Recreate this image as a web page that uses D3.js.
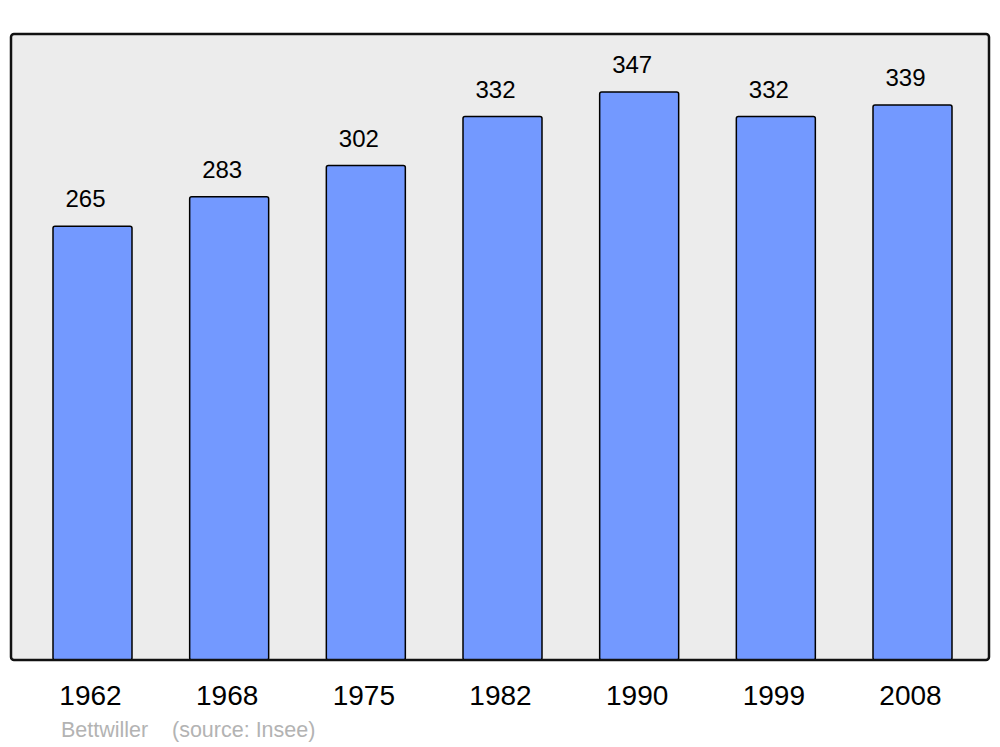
<!DOCTYPE html>
<html>
<head>
<meta charset="utf-8">
<script src="https://cdn.jsdelivr.net/npm/d3@7"></script>
<style>
  body { margin: 0; background: #fff; }
  text { font-family: "Liberation Sans", Arial, sans-serif; }
</style>
</head>
<body>
<svg></svg>
<script>
const years = ["1962", "1968", "1975", "1982", "1990", "1999", "2008"];
const population = [265, 283, 302, 332, 347, 332, 339];
const commune = "Bettwiller";
const source = "(source: Insee)";

const width = 1000;
const height = 747;

const svg = d3.select("svg").attr("width", width).attr("height", height);

// plot frame
const frame = { left: 11, right: 989, top: 34, bottom: 660 };

const x = d3
  .scaleBand()
  .domain(years)
  .range([12, 993])
  .paddingInner(0.422)
  .paddingOuter(0.3);

const y = d3
  .scaleLinear()
  .domain([0, 382.4])
  .range([frame.bottom, frame.top]);

svg
  .append("rect")
  .attr("x", frame.left)
  .attr("y", frame.top)
  .attr("width", frame.right - frame.left)
  .attr("height", frame.bottom - frame.top)
  .attr("rx", 3)
  .attr("fill", "#ececec")
  .attr("stroke", "none");

const data = years.map((yr, i) => ({ year: yr, value: population[i] }));

svg
  .selectAll("rect.bar")
  .data(data)
  .enter()
  .append("rect")
  .attr("class", "bar")
  .attr("x", (d) => x(d.year))
  .attr("y", (d) => y(d.value))
  .attr("width", x.bandwidth())
  .attr("height", (d) => y(0) - y(d.value))
  .attr("rx", 2)
  .attr("fill", "#7399ff")
  .attr("stroke", "#000")
  .attr("stroke-width", 1.5);

// frame border on top of bars
svg
  .append("rect")
  .attr("x", frame.left)
  .attr("y", frame.top)
  .attr("width", frame.right - frame.left)
  .attr("height", frame.bottom - frame.top)
  .attr("rx", 3)
  .attr("fill", "none")
  .attr("stroke", "#111")
  .attr("stroke-width", 2.5);

svg
  .selectAll("text.value")
  .data(data)
  .enter()
  .append("text")
  .attr("class", "value")
  .attr("x", (d) => x(d.year) + x.bandwidth() / 2 - 7)
  .attr("y", (d) => y(d.value) - 19)
  .attr("text-anchor", "middle")
  .attr("font-size", 24)
  .attr("fill", "#000")
  .text((d) => d.value);

svg
  .selectAll("text.year")
  .data(data)
  .enter()
  .append("text")
  .attr("class", "year")
  .attr("x", (d) => x(d.year) + x.bandwidth() / 2 - 2)
  .attr("y", 705)
  .attr("text-anchor", "middle")
  .attr("font-size", 28)
  .attr("fill", "#000")
  .text((d) => d.year);

svg
  .append("text")
  .attr("x", 61)
  .attr("y", 737)
  .attr("font-size", 21.5)
  .attr("fill", "#b3b3b3")
  .text(commune);

svg
  .append("text")
  .attr("x", 172)
  .attr("y", 737)
  .attr("font-size", 21.5)
  .attr("fill", "#b3b3b3")
  .text(source);
</script>
</body>
</html>
